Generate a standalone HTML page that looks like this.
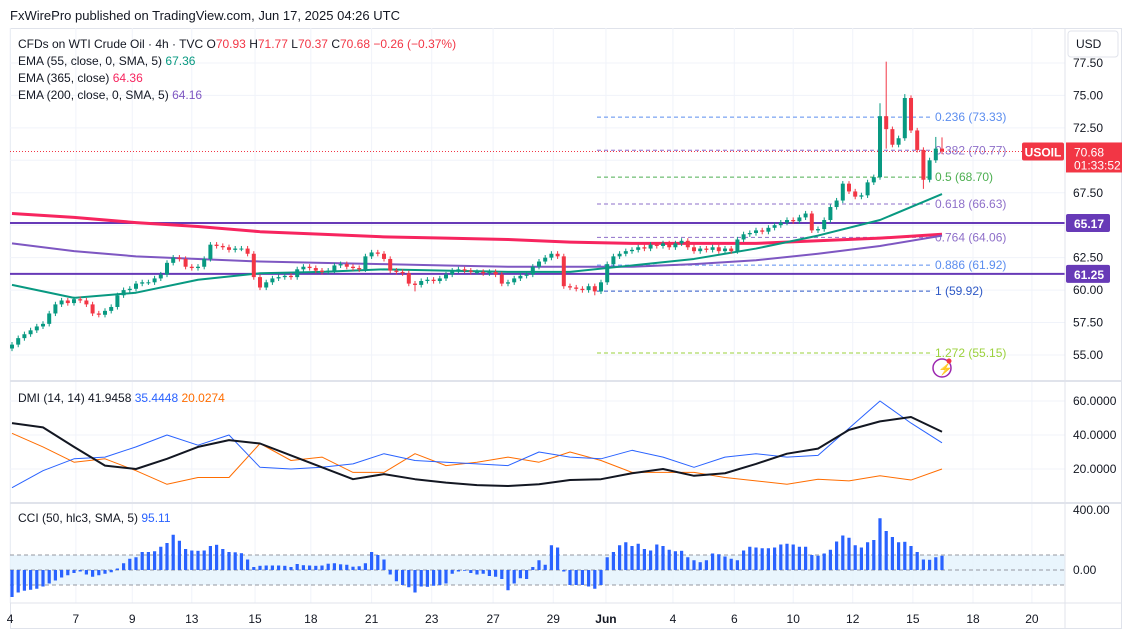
<!DOCTYPE html>
<html><head><meta charset="utf-8">
<style>
html,body{margin:0;padding:0;background:#fff;width:1122px;height:635px;overflow:hidden}
svg{display:block;font-family:"Liberation Sans",sans-serif}
</style></head>
<body>
<svg id="chart" width="1122" height="635" viewBox="0 0 1122 635" xmlns="http://www.w3.org/2000/svg">
<rect x="0" y="0" width="1122" height="635" fill="#fff"/>
<text x="10" y="20" font-size="13" fill="#131722">FxWirePro published on TradingView.com, Jun 17, 2025 04:26 UTC</text>
<rect x="10.5" y="28.5" width="1111" height="600" fill="none" stroke="#e0e3eb"/>
<g id="grid"></g>
<g id="marks"></g>
<line x1="10" y1="381" x2="1122" y2="381" stroke="#e0e3eb" stroke-width="2"/>
<line x1="10" y1="503" x2="1122" y2="503" stroke="#e0e3eb" stroke-width="2"/>
<line x1="10" y1="603" x2="1122" y2="603" stroke="#e0e3eb"/>
<line x1="1065" y1="28" x2="1065" y2="628" stroke="#e0e3eb"/>
<g><rect x="1068" y="31" width="50" height="26" rx="3" fill="#fff" stroke="#e0e3eb"/><text x="1076" y="48" font-size="12" fill="#131722">USD</text></g>
<g id="axes"></g>
<g font-size="12">
<text x="18" y="48" fill="#131722">CFDs on WTI Crude Oil · 4h · TVC <tspan fill="#131722">O</tspan><tspan fill="#f23645">70.93</tspan> <tspan fill="#131722">H</tspan><tspan fill="#f23645">71.77</tspan> <tspan fill="#131722">L</tspan><tspan fill="#f23645">70.37</tspan> <tspan fill="#131722">C</tspan><tspan fill="#f23645">70.68</tspan> <tspan fill="#f23645">−0.26 (−0.37%)</tspan></text>
<text x="18" y="65" fill="#131722">EMA (55, close, 0, SMA, 5) <tspan fill="#089981">67.36</tspan></text>
<text x="18" y="82" fill="#131722">EMA (365, close) <tspan fill="#f7255f">64.36</tspan></text>
<text x="18" y="99" fill="#131722">EMA (200, close, 0, SMA, 5) <tspan fill="#7e57c2">64.16</tspan></text>
</g>
<text x="18" y="402" font-size="12" fill="#131722">DMI (14, 14) 41.9458 <tspan fill="#2962ff">35.4448</tspan> <tspan fill="#ff6d00">20.0274</tspan></text>
<text x="18" y="522" font-size="12" fill="#131722">CCI (50, hlc3, SMA, 5) <tspan fill="#2962ff">95.11</tspan></text>
<g><circle cx="942" cy="368" r="9" fill="#fff" stroke="#9c27b0" stroke-width="1.5"/><text x="938" y="373" font-size="12" fill="#9c27b0">⚡</text><circle cx="949" cy="361" r="2.5" fill="#f23645"/></g>
</svg>
<script>
const closes=[55.8,56.3,56.6,56.9,57.2,57.4,58.2,58.9,59.2,59.0,59.3,59.2,58.9,58.2,58.1,58.4,58.7,59.6,60.0,60.1,60.5,60.6,60.6,60.9,61.2,62.1,62.5,62.4,61.8,61.7,61.8,62.4,63.5,63.4,63.3,63.1,63.2,63.2,62.8,61.0,60.2,60.6,60.9,61.0,61.1,61.0,61.6,61.8,61.7,61.5,61.4,61.5,61.9,62.0,61.8,61.7,61.6,62.6,62.9,62.8,62.4,61.5,61.4,61.3,60.5,60.4,60.7,60.8,60.7,60.9,61.2,61.5,61.6,61.5,61.4,61.4,61.3,61.4,61.2,60.5,60.6,60.9,61.1,61.2,61.8,62.2,62.5,62.8,62.6,60.3,60.2,60.1,60.0,60.3,59.9,60.6,62.0,62.6,62.8,63.0,63.1,63.3,63.2,63.5,63.4,63.6,63.3,63.6,63.8,63.3,63.0,63.2,63.1,63.3,63.0,63.2,63.0,63.9,64.3,64.4,64.6,64.5,64.8,65.0,65.2,65.4,65.3,65.6,65.9,64.6,64.7,65.4,66.4,66.9,68.2,67.6,67.2,67.3,68.3,68.7,73.4,72.4,71.2,71.7,74.8,72.3,70.8,68.5,70.0,70.9,70.68];
const spikeHighIdx=[140,141,144,149,150];
const spikeHighVal=[74.4,77.6,75.1,71.8,71.77];
const spikeLowIdx=[147,94,65,141];
const spikeLowVal=[67.8,59.6,59.9,70.9];
const ema55=[60.4,59.4,59.8,60.8,61.3,61.4,61.6,61.5,61.4,61.4,61.9,62.4,63.2,64.2,65.4,67.4];
const ema365=[65.9,65.6,65.2,64.9,64.5,64.3,64.1,64.0,63.9,63.7,63.6,63.6,63.6,63.8,64.0,64.3];
const ema200=[63.6,63.0,62.6,62.4,62.2,62.1,62.0,61.9,61.8,61.8,61.8,62.0,62.3,62.8,63.4,64.2];
const adx=[47,44.5,33,22,20,26,33,37,35,28,21,14,17,14,12,10.5,10,11,13.5,14,17.5,20,16,17.5,23,29,32,43,48,50.6,41.9];
const plusDI=[9,19,26,27,33,40,34,40,21,20,21,23,29,25,24,23,22,30,27,26,31,27,21,27,29,27,28,44,60,47,35.4];
const minusDI=[41,33,24,26,19,11,15,15,35,25,27,18,18,29,22,24,27,24,30,25,18,18,18,15,13,11,14,13,16,13.5,20];
const cci=[-180,-150,-138,-132,-125,-110,-90,-70,-50,-35,-20,-10,-30,-45,-35,-25,-15,10,45,75,85,120,120,125,155,180,235,195,140,130,128,130,160,168,140,120,118,112,70,20,28,30,30,30,28,20,40,32,30,28,30,42,45,38,35,22,25,45,120,100,70,-30,-75,-100,-115,-150,-110,-112,-105,-100,-90,-25,-10,-5,-20,-30,-25,-40,-45,-60,-135,-90,-55,-60,20,65,35,165,150,-10,-100,-100,-100,-110,-125,-100,85,120,165,185,160,175,140,130,170,160,135,125,128,85,65,52,65,110,105,90,75,65,130,155,150,145,145,150,170,175,170,155,155,100,95,110,135,190,230,215,165,150,185,200,345,260,220,185,188,160,120,70,68,85,95];
const priceTicks=[77.5,75,72.5,70,67.5,65,62.5,60,57.5,55];
const dmiTicks=[60,40,20];
const cciTicks=[400,0];
const timeLabels=["4","7","9","13","15","18","21","23","27","29","Jun","4","6","10","12","15","18","20"];
const timeIdx=[-0.3,10.3,19.4,29,39.2,48.2,58,67.7,77.6,87.3,95.8,106.6,116.5,126,135.6,145.3,155,164.5];
const fibRatios=["0.236","0.382","0.5","0.618","0.764","0.886","1","1.272"];
const fibPrices=[73.33,70.77,68.70,66.63,64.06,61.92,59.92,55.15];
const hLevels=[65.17,61.25];
const lastPrice=70.68;

const NS="http://www.w3.org/2000/svg";
const xOf=i=>12+i*6.2;
const yP=p=>355-(p-55)*12.98;
const yD=v=>469-(v-20)*1.7;
const yC=v=>570-v*0.15;
function mk(tag,attrs,parent){const e=document.createElementNS(NS,tag);for(const k in attrs)e.setAttribute(k,attrs[k]);parent.appendChild(e);return e;}
const grid=document.getElementById('grid'),marks=document.getElementById('marks'),axes=document.getElementById('axes');

priceTicks.forEach(p=>{const l=mk('line',{x1:10,x2:1065,y1:yP(p),y2:yP(p),stroke:'#f0f3fa'},grid);


const t=mk('text',{x:1073,y:yP(p)+4,'font-size':12,fill:'#131722'},axes);t.textContent=p.toFixed(2);

});
dmiTicks.forEach(v=>{const l=mk('line',{x1:10,x2:1065,y1:yD(v),y2:yD(v),stroke:'#f0f3fa'},grid);


const t=mk('text',{x:1073,y:yD(v)+4,'font-size':12,fill:'#131722'},axes);t.textContent=v.toFixed(4);

});
cciTicks.forEach(v=>{const t=mk('text',{x:1073,y:yC(v)+4,'font-size':12,fill:'#131722'},axes);t.textContent=v.toFixed(2);

});
timeLabels.forEach((s,k)=>{const x=xOf(timeIdx[k]);
const l=mk('line',{x1:x,x2:x,y1:28,y2:603,stroke:'#f0f3fa'},grid);


const t=mk('text',{x:x,y:623,'font-size':12,fill:'#131722','text-anchor':'middle','font-weight':s==='Jun'?'bold':'normal'},axes);t.textContent=s;

});

const band=mk('rect',{x:10,y:yC(100),width:1055,height:yC(-100)-yC(100),fill:'#e3f2fd',opacity:0.8},grid);


[100,0,-100].forEach(v=>{const l=mk('line',{x1:10,x2:1065,y1:yC(v),y2:yC(v),stroke:'#9598a1','stroke-dasharray':'4 3'},grid);

});

hLevels.forEach(p=>{const l=mk('line',{x1:10,x2:1065,y1:yP(p),y2:yP(p),stroke:'#673ab7','stroke-width':2},marks);


const g=mk('g',{},axes);


mk('rect',{x:1066,y:yP(p)-9,width:44,height:18,rx:2,fill:'#673ab7'},g);
const t=mk('text',{x:1074,y:yP(p)+5,'font-size':12,fill:'#fff','font-weight':'bold'},g);t.textContent=p.toFixed(2);});

const fibCols=['#5b8def','#8e6fc9','#4caf50','#8e6fc9','#8e6fc9','#5b8def','#2d58c6','#9bd13b'];
fibRatios.forEach((r,k)=>{const y=yP(fibPrices[k]);
const l=mk('line',{x1:597,x2:930,y1:y,y2:y,stroke:fibCols[k],'stroke-dasharray':'4 3'},marks);


const t=mk('text',{x:935,y:y+4,'font-size':12,fill:fibCols[k]},marks);t.textContent=r+' ('+fibPrices[k].toFixed(2)+')';

});

const lp=mk('line',{x1:10,x2:1065,y1:yP(lastPrice),y2:yP(lastPrice),stroke:'#f23645','stroke-dasharray':'1 2'},marks);



function emaPath(arr,col,w,name){const d=arr.map((v,k)=>(k?'L':'M')+xOf(k*10)+','+yP(v)).join(' ');
const p=mk('path',{d:d,fill:'none',stroke:col,'stroke-width':w,'stroke-linejoin':'round'},marks);

}
emaPath(ema365,'#f7255f',3,'ema-365-line');
emaPath(ema200,'#7e57c2',2,'ema-200-line');
emaPath(ema55,'#089981',2,'ema-55-line');

closes.forEach((c,i)=>{const o=i?closes[i-1]:55.5;
let h=Math.max(o,c)+0.2,lo=Math.min(o,c)-0.2;
const hi=spikeHighIdx.indexOf(i);if(hi>=0)h=spikeHighVal[hi];
const li=spikeLowIdx.indexOf(i);if(li>=0)lo=spikeLowVal[li];
const col=c>=o?'#089981':'#f23645';const x=xOf(i);
const g=mk('g',{},marks);


mk('line',{x1:x,x2:x,y1:yP(h),y2:yP(lo),stroke:col,'stroke-width':1},g);
const top=yP(Math.max(o,c)),bh=Math.max(1,yP(Math.min(o,c))-top);
mk('rect',{x:x-2,y:top,width:4,height:bh,fill:col},g);});

function dmiPath(arr,col,w,name){const d=arr.map((v,k)=>(k?'L':'M')+xOf(k*5)+','+yD(v)).join(' ');
const p=mk('path',{d:d,fill:'none',stroke:col,'stroke-width':w,'stroke-linejoin':'round'},marks);

}
dmiPath(minusDI,'#ff6d00',1,'dmi-minus-di-line');
dmiPath(plusDI,'#2962ff',1,'dmi-plus-di-line');
dmiPath(adx,'#131722',2,'dmi-adx-line');

cci.forEach((v,i)=>{const x=xOf(i);const y0=yC(0),y1=yC(v);
const r=mk('rect',{x:x-1.6,y:Math.min(y0,y1),width:3.2,height:Math.abs(y1-y0),fill:'#2962ff'},marks);

});

const g=mk('g',{},axes);


const yl=yP(lastPrice);
mk('rect',{x:1022,y:yl-9,width:42,height:18,rx:2,fill:'#f23645'},g);
const t1=mk('text',{x:1043,y:yl+5,'font-size':12,fill:'#fff','font-weight':'bold','text-anchor':'middle'},g);t1.textContent='USOIL';
mk('rect',{x:1066,y:yl-9,width:56,height:30,fill:'#f23645'},g);
const t2=mk('text',{x:1074,y:yl+5,'font-size':12,fill:'#fff'},g);t2.textContent=lastPrice.toFixed(2);
const t3=mk('text',{x:1074,y:yl+18,'font-size':12,fill:'#fff'},g);t3.textContent='01:33:52';
</script>
</body></html>
